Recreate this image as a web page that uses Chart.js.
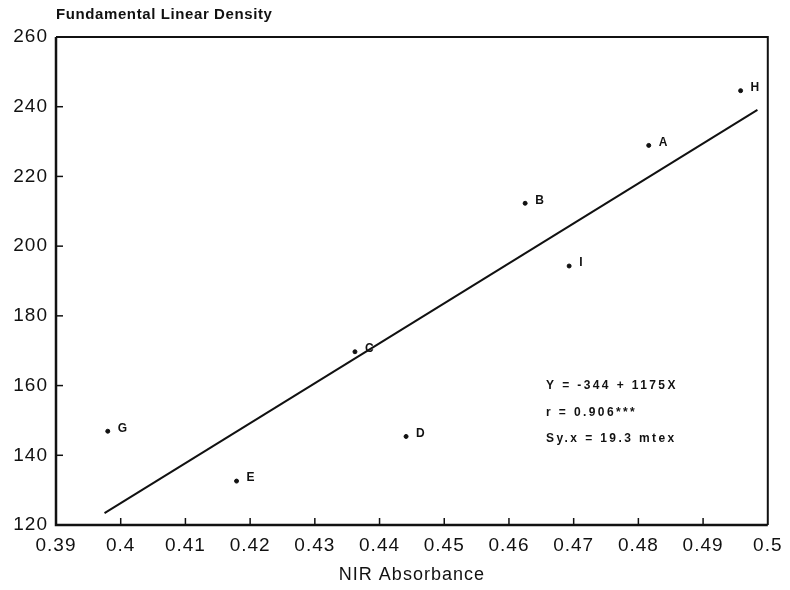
<!DOCTYPE html>
<html>
<head>
<meta charset="utf-8">
<script src="https://cdn.jsdelivr.net/npm/chart.js@4.4.1/dist/chart.umd.min.js"></script>
<style>
  html, body { margin: 0; padding: 0; background: #fff; }
  #wrap { width: 790px; height: 590px; position: relative; }
</style>
</head>
<body>
<div id="wrap"><canvas id="c" width="790" height="590"></canvas></div>
<script>
// ---- data ----
const sampleIds      = ['H', 'A', 'B', 'I', 'C', 'D', 'G', 'E'];
const nirAbsorbance  = [0.4958, 0.4816, 0.4625, 0.4693, 0.4362, 0.4441, 0.398, 0.4179];
const linearDensity  = [244.6, 228.9, 212.3, 194.3, 169.7, 145.4, 146.9, 132.6];
const fitLineX       = [0.3975, 0.4984];
const fitLineY       = [123.4, 239.1];
const xTickValues    = [0.39, 0.40, 0.41, 0.42, 0.43, 0.44, 0.45, 0.46, 0.47, 0.48, 0.49, 0.50];
const xTickLabels    = ['0.39', '0.4', '0.41', '0.42', '0.43', '0.44', '0.45', '0.46', '0.47', '0.48', '0.49', '0.5'];
const yTickValues    = [120, 140, 160, 180, 200, 220, 240, 260];
const yTickLabels    = ['120', '140', '160', '180', '200', '220', '240', '260'];
const chartTitle     = 'Fundamental Linear Density';
const xAxisTitle     = 'NIR Absorbance';
const statsLines     = ['Y = -344 + 1175X', 'r = 0.906***', 'Sy.x = 19.3 mtex'];

const FONT = '"Liberation Sans", Arial, Helvetica, sans-serif';

const framePlugin = {
  id: 'frame',
  beforeDraw(chart) {
    chart.ctx.letterSpacing = '1px';
  },
  afterDraw(chart) {
    const { ctx, chartArea: a, scales } = chart;
    ctx.save();
    ctx.letterSpacing = '0px';
    // frame: heavy left/bottom axes, lighter top/right
    ctx.strokeStyle = '#111';
    ctx.lineWidth = 2.5;
    ctx.beginPath();
    ctx.moveTo(a.left, a.top); ctx.lineTo(a.left, a.bottom); ctx.lineTo(a.right, a.bottom);
    ctx.stroke();
    ctx.lineWidth = 2;
    ctx.beginPath();
    ctx.moveTo(a.left, a.top); ctx.lineTo(a.right, a.top); ctx.lineTo(a.right, a.bottom);
    ctx.stroke();
    // inside tick marks
    ctx.lineWidth = 1.5;
    xTickValues.forEach(v => {
      if (v <= scales.x.min || v >= scales.x.max) return;
      const px = scales.x.getPixelForValue(v);
      ctx.beginPath(); ctx.moveTo(px, a.bottom); ctx.lineTo(px, a.bottom - 7); ctx.stroke();
    });
    yTickValues.forEach(v => {
      if (v <= scales.y.min || v >= scales.y.max) return;
      const py = scales.y.getPixelForValue(v);
      ctx.beginPath(); ctx.moveTo(a.left, py); ctx.lineTo(a.left + 7, py); ctx.stroke();
    });
    // title
    ctx.fillStyle = '#111';
    ctx.font = 'bold 15px ' + FONT;
    ctx.letterSpacing = '0.6px';
    ctx.textAlign = 'left';
    ctx.textBaseline = 'middle';
    ctx.fillText(chartTitle, a.left, 15);
    // point labels
    const meta = chart.getDatasetMeta(0);
    ctx.font = 'bold 12px ' + FONT;
    ctx.letterSpacing = '0px';
    meta.data.forEach((pt, i) => {
      ctx.fillText(sampleIds[i], pt.x + 10, pt.y - 3);
    });
    // statistics block
    ctx.font = 'bold 12px ' + FONT;
    ctx.letterSpacing = '2.4px';
    statsLines.forEach((s, i) => {
      ctx.fillText(s, a.left + 490, 386 + i * 26.5);
    });
    ctx.restore();
  }
};

new Chart(document.getElementById('c'), {
  data: {
    datasets: [
      {
        type: 'scatter',
        data: nirAbsorbance.map((x, i) => ({ x, y: linearDensity[i] })),
        backgroundColor: '#111',
        borderColor: '#111',
        pointRadius: 2,
        pointHoverRadius: 2
      },
      {
        type: 'line',
        data: fitLineX.map((x, i) => ({ x, y: fitLineY[i] })),
        borderColor: '#111',
        borderWidth: 2,
        pointRadius: 0,
        fill: false
      }
    ]
  },
  options: {
    responsive: false,
    animation: false,
    events: [],
    layout: { padding: { top: 37, right: 18, left: 0, bottom: 0 } },
    plugins: { legend: { display: false }, tooltip: { enabled: false }, title: { display: false } },
    scales: {
      x: {
        type: 'linear',
        min: 0.39, max: 0.5,
        afterBuildTicks(scale) { scale.ticks = xTickValues.map(v => ({ value: v })); },
        afterFit(scale) { scale.height = 590 - 525; },
        ticks: {
          color: '#111',
          font: { family: FONT, size: 19 },
          padding: 9,
          maxRotation: 0,
          autoSkip: false,
          callback: (v, i) => xTickLabels[i]
        },
        grid: { display: true, drawOnChartArea: false, drawTicks: false, color: 'transparent' },
        border: { display: false },
        title: {
          display: true,
          text: xAxisTitle,
          color: '#111',
          font: { family: FONT, size: 18 },
          padding: { top: 0, bottom: 4 }
        }
      },
      y: {
        type: 'linear',
        min: 120, max: 260,
        afterBuildTicks(scale) { scale.ticks = yTickValues.map(v => ({ value: v })); },
        afterFit(scale) { scale.width = 56; },
        ticks: {
          color: '#111',
          font: { family: FONT, size: 19 },
          padding: 8,
          autoSkip: false,
          callback: (v, i) => yTickLabels[i]
        },
        grid: { display: true, drawOnChartArea: false, drawTicks: false, color: 'transparent' },
        border: { display: false }
      }
    }
  },
  plugins: [framePlugin]
});
</script>
</body>
</html>
